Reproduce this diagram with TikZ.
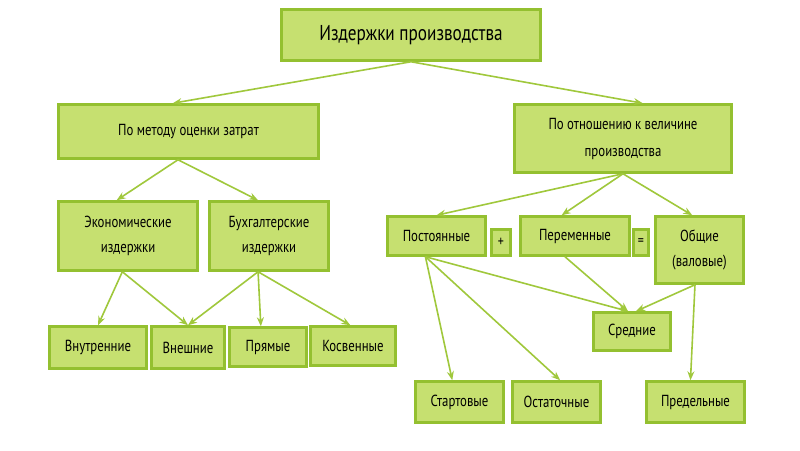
\documentclass[tikz,border=0pt]{standalone}
\usepackage{fontspec}
\setmainfont[FakeStretch=0.8]{PT Sans}
\usetikzlibrary{arrows.meta, positioning, calc}
\definecolor{limefill}{RGB}{198,224,112}
\definecolor{limeedge}{RGB}{148,192,48}
\definecolor{limeline}{RGB}{160,200,60}
\tikzset{
  box/.style={rectangle, draw=limeedge, line width=2.5pt, fill=limefill,
              text centered, align=center, inner sep=2pt,
              font=\fontsize{16}{25}\selectfont},
  signbox/.style={box, inner sep=0pt, font=\fontsize{15}{15}\selectfont},
  arrow/.style={-{Stealth[length=9pt, width=7pt]}, line width=1.6pt, draw=limeline},
}

\begin{document}
\begin{tikzpicture}[x=1pt, y=-1pt]
  \useasboundingbox[fill=white] (0,0) rectangle (800,450);

  % Top level
  \node[box, minimum width=259pt, minimum height=51pt,
        font=\fontsize{21.5}{24}\selectfont] (costs) at (411,35) {Издержки производства};

  % Second level
  \node[box, minimum width=260pt, minimum height=54pt] (method) at (188.5,131.5)
    {По методу оценки затрат};
  \node[box, minimum width=217pt, minimum height=68pt, font=\fontsize{16}{27}\selectfont]
    (volume) at (623,138.5) {По отношению к величине\\производства};

  % Left branch
  \node[box, minimum width=139pt, minimum height=69pt] (econ) at (128,236)
    {Экономические\\издержки};
  \node[box, minimum width=119pt, minimum height=69pt] (acct) at (269,236)
    {Бухгалтерские\\издержки};

  \node[box, minimum width=97pt, minimum height=42pt] (inner) at (98,347.5) {Внутренние};
  \node[box, minimum width=73pt, minimum height=42pt] (outer) at (188,347.5) {Внешние};
  \node[box, minimum width=77pt, minimum height=39pt] (direct) at (268,347) {Прямые};
  \node[box, minimum width=85pt, minimum height=39pt] (indirect) at (353,346) {Косвенные};

  % Right branch
  \node[box, minimum width=98pt, minimum height=39pt] (fixed) at (436.5,236) {Постоянные};
  \node[signbox, minimum width=19pt, minimum height=26pt] (plus) at (501,242.5) {+};
  \node[box, minimum width=109pt, minimum height=39pt] (variable) at (575,236) {Переменные};
  \node[signbox, minimum width=15pt, minimum height=26pt] (equals) at (641,242.5) {=};
  \node[box, minimum width=88pt, minimum height=67pt] (total) at (699.5,250)
    {Общие\\(валовые)};

  \node[box, minimum width=77pt, minimum height=38pt] (average) at (632,331.5) {Средние};
  \node[box, minimum width=88pt, minimum height=41pt] (startup) at (459.5,402) {Стартовые};
  \node[box, minimum width=88pt, minimum height=41pt] (residual) at (556.5,402) {Остаточные};
  \node[box, minimum width=98pt, minimum height=41pt] (marginal) at (695.5,402) {Предельные};

  % Top arrows
  \draw[arrow] (costs.south) -- ($(method.north west)!0.44!(method.north east)$);
  \draw[arrow] (costs.south) -- ($(volume.north west)!0.59!(volume.north east)$);

  % By method of estimation
  \draw[arrow] ($(method.south west)!0.46!(method.south east)$) --
    ($(econ.north west)!0.42!(econ.north east)$);
  \draw[arrow] ($(method.south west)!0.46!(method.south east)$) --
    ($(acct.north west)!0.41!(acct.north east)$);
  \draw[arrow] ($(econ.south west)!0.46!(econ.south east)$) -- (inner.north);
  \draw[arrow] ($(econ.south west)!0.46!(econ.south east)$) -- (outer.north);
  \draw[arrow] ($(acct.south west)!0.41!(acct.south east)$) -- (outer.north);
  \draw[arrow] ($(acct.south west)!0.41!(acct.south east)$) --
    ($(direct.north west)!0.41!(direct.north east)$);
  \draw[arrow] ($(acct.south west)!0.41!(acct.south east)$) --
    ($(indirect.north west)!0.47!(indirect.north east)$);

  % By volume of production
  \draw[arrow] (volume.south) -- (fixed.north);
  \draw[arrow] (volume.south) -- ($(variable.north west)!0.38!(variable.north east)$);
  \draw[arrow] (volume.south) -- ($(total.north west)!0.42!(total.north east)$);

  \draw[arrow] ($(fixed.south west)!0.39!(fixed.south east)$) --
    ($(startup.north west)!0.42!(startup.north east)$);
  \draw[arrow] ($(fixed.south west)!0.39!(fixed.south east)$) --
    ($(residual.north west)!0.54!(residual.north east)$);
  \draw[arrow] ($(fixed.south west)!0.39!(fixed.south east)$) --
    ($(average.north west)!0.45!(average.north east)$);
  \draw[arrow] ($(variable.south west)!0.41!(variable.south east)$) --
    ($(average.north west)!0.45!(average.north east)$);
  \draw[arrow] ($(total.south west)!0.45!(total.south east)$) --
    ($(average.north west)!0.55!(average.north east)$);
  \draw[arrow] ($(total.south west)!0.45!(total.south east)$) --
    ($(marginal.north west)!0.45!(marginal.north east)$);
\end{tikzpicture}
\end{document}
